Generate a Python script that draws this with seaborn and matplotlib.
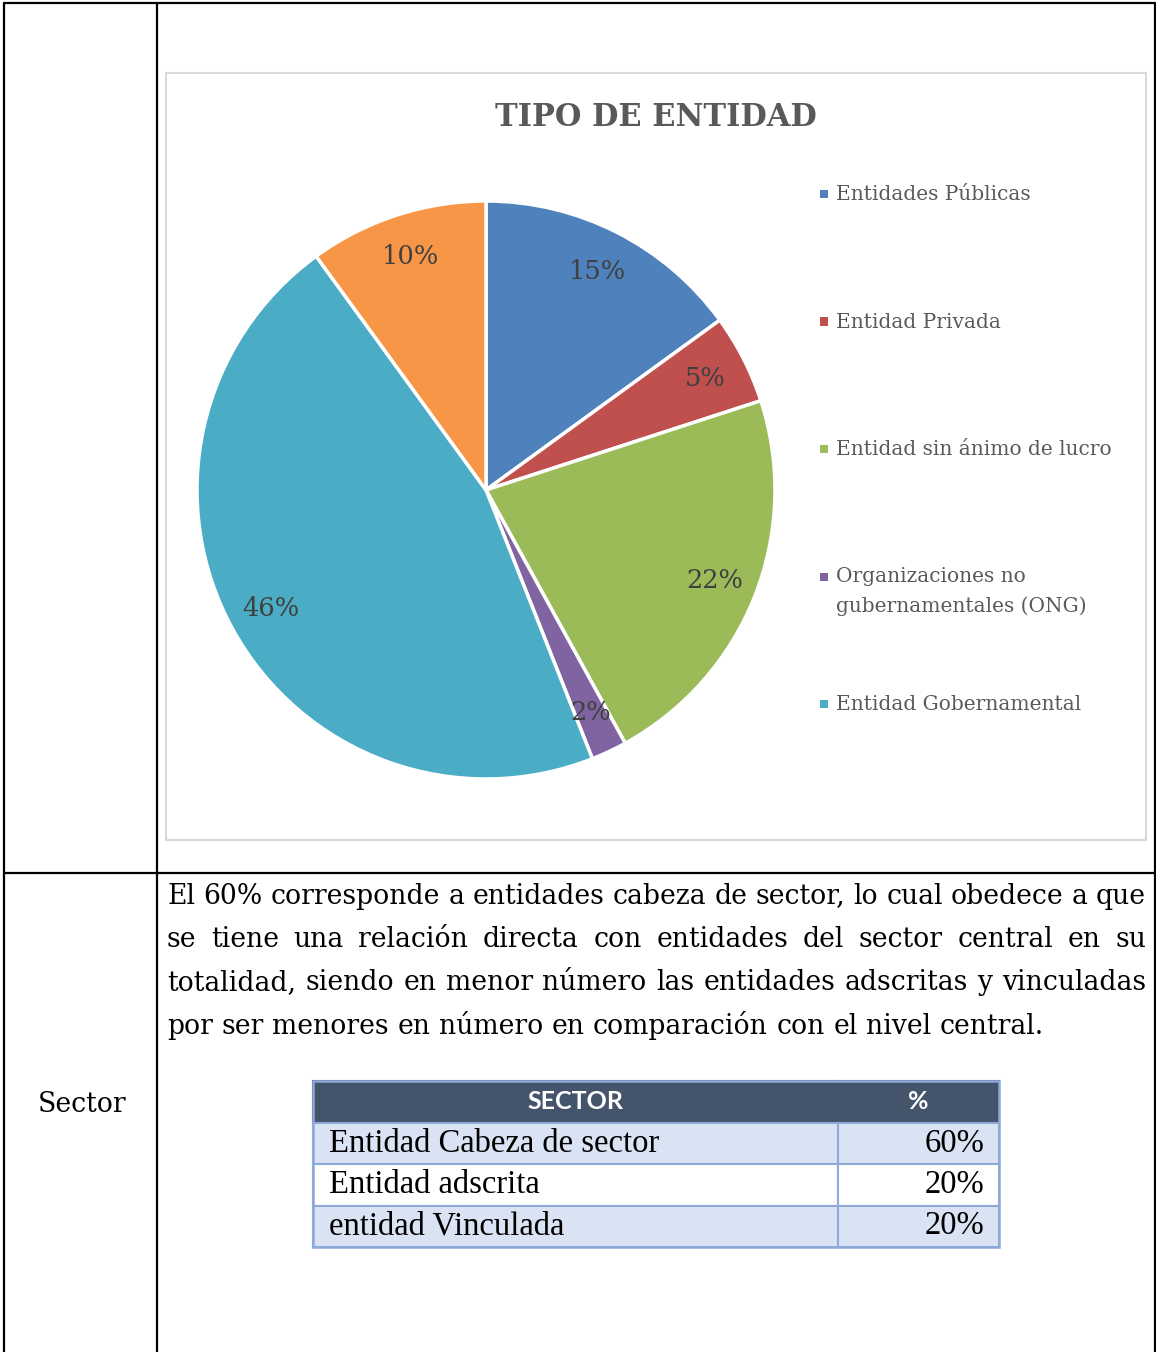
import matplotlib
matplotlib.use("Agg")
import matplotlib.pyplot as plt
import seaborn as sns
from matplotlib.patches import Rectangle
from matplotlib.lines import Line2D

# data
categories = ["Entidades Públicas", "Entidad Privada", "Entidad sin ánimo de lucro",
              "Organizaciones no\ngubernamentales (ONG)", "Entidad Gobernamental", "Otras"]
shares = [15, 5, 22, 2, 46, 10]
n_legend = 5
palette = ["#4F81BD", "#C0504D", "#9BBB59", "#8064A2", "#4BACC6", "#F79646"]

sector_labels = ["Entidad Cabeza de sector", "Entidad adscrita", "entidad Vinculada"]
sector_pct = [60, 20, 20]
table_header = ["SECTOR", "%"]

paragraph = [
    "El 60% corresponde a entidades cabeza de sector, lo cual obedece a que",
    "se tiene una relación directa con entidades del sector central en su",
    "totalidad, siendo en menor número las entidades adscritas y vinculadas",
    "por ser menores en número en comparación con el nivel central.",
]

sns.set_theme(style="white")
plt.rcParams["font.family"] = ["DejaVu Serif", "DejaVu Sans"]

W, H = 1156, 1352
fig = plt.figure(figsize=(W / 100, H / 100), dpi=100)


def fx(x):
    return x / W


def fy(y):
    return 1 - y / H


# document grid lines
for (x0, y0, x1, y1) in [(4, 3, 1155, 3), (4, 3, 4, H), (157, 3, 157, H),
                         (1155, 3, 1155, H), (4, 873, 1155, 873)]:
    fig.add_artist(Line2D([fx(x0), fx(x1)], [fy(y0), fy(y1)], transform=fig.transFigure,
                          color="black", lw=1.6))

# chart frame
fig.add_artist(Rectangle((fx(166), fy(840)), (1146 - 166) / W, (840 - 73) / H,
                         transform=fig.transFigure, fill=False, edgecolor="#D9D9D9", lw=1.5))

fig.text(fx(656), fy(118), "TIPO DE ENTIDAD", ha="center", va="center",
         fontsize=22, fontweight="bold", color="#595959")

# pie
cx, cy, r = 486, 490, 289
ax = fig.add_axes([fx(cx - r), fy(cy + r), 2 * r / W, 2 * r / H])
wedges, texts, autotexts = ax.pie(
    shares, colors=palette, startangle=90, counterclock=False,
    autopct="%1.0f%%", pctdistance=0.85,
    wedgeprops=dict(edgecolor="white", linewidth=2.5),
    textprops=dict(fontsize=18.5, color="#404040"))
for w in wedges:
    w.set_clip_on(False)
ax.set_xlim(-1, 1)
ax.set_ylim(-1, 1)
ax.axis("off")

# legend
for i in range(n_legend):
    y = 194 + 127.5 * i
    fig.add_artist(Rectangle((fx(820), fy(y + 4)), 8 / W, 8 / H, transform=fig.transFigure,
                             facecolor=palette[i], edgecolor="none"))
    for j, part in enumerate(categories[i].split("\n")):
        fig.text(fx(836), fy(y + 29 * j + 6), part, ha="left", va="baseline",
                 fontsize=14.5, color="#595959")

# paragraph, justified
renderer = fig.canvas.get_renderer()
left, right = 167, 1146
base = 20
probe = fig.text(0, 0, paragraph[2], fontsize=base)
nat = probe.get_window_extent(renderer).width
probe.set_text(paragraph[0])
nat = max(nat, probe.get_window_extent(renderer).width)
probe.remove()
size = base * (right - left - 4) / nat
sp = fig.text(0, 0, "x x", fontsize=size)
sp2 = fig.text(0, 0, "xx", fontsize=size)
space_w = sp.get_window_extent(renderer).width - sp2.get_window_extent(renderer).width
sp.remove()
sp2.remove()

line_y = [895, 938, 981, 1025]
for i, line in enumerate(paragraph):
    words = line.split()
    objs = [fig.text(0, fy(line_y[i] + 9), w, ha="left", va="baseline", fontsize=size,
                     color="black")
            for w in words]
    widths = [o.get_window_extent(renderer).width for o in objs]
    if i < len(paragraph) - 1:
        gap = (right - left - sum(widths)) / (len(words) - 1)
    else:
        gap = space_w
    x = left
    for o, wd in zip(objs, widths):
        o.set_x(fx(x))
        x += wd + gap

fig.text(fx(38), fy(1104), "Sector", ha="left", va="center", fontsize=size, color="black")

# sector table
tx0, tx1, ty0, ty1 = 313, 999, 1081, 1247
axt = fig.add_axes([fx(tx0), fy(ty1), (tx1 - tx0) / W, (ty1 - ty0) / H])
axt.axis("off")
col_w = [(838 - tx0) / (tx1 - tx0), (tx1 - 838) / (tx1 - tx0)]
tbl = axt.table(cellText=[[l, f"{p}%"] for l, p in zip(sector_labels, sector_pct)],
                colLabels=table_header, colWidths=col_w, cellLoc="left", bbox=[0, 0, 1, 1])
tbl.auto_set_font_size(False)
for (row, col), cell in tbl.get_celld().items():
    cell.set_linewidth(1.5)
    txt = cell.get_text()
    if row == 0:
        cell.set_facecolor("#44546A")
        cell.set_edgecolor("#44546A")
        txt.set_horizontalalignment("center")
        txt.set_color("white")
        txt.set_fontfamily("Lato")
        txt.set_fontweight("bold")
        txt.set_fontsize(18)
    else:
        cell.set_edgecolor("#8EAADB")
        cell.set_facecolor("#DAE3F3" if row % 2 == 1 else "white")
        txt.set_fontfamily("Liberation Serif")
        txt.set_fontsize(23.5)
        txt.set_color("black")
        if col == 0:
            txt.set_horizontalalignment("left")
            cell.PAD = 16 / (838 - tx0)
        else:
            txt.set_horizontalalignment("right")
            cell.PAD = 15 / (tx1 - 838)
axt.add_patch(Rectangle((0, 0), 1, 1, transform=axt.transAxes, fill=False,
                        edgecolor="#8EAADB", lw=1.8, clip_on=False, zorder=5))

fig.savefig("out.png", dpi=100, facecolor="white")
